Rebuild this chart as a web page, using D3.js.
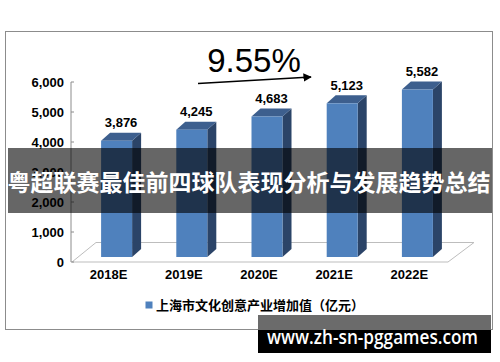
<!DOCTYPE html>
<html>
<head>
<meta charset="utf-8">
<script src="https://cdn.jsdelivr.net/npm/d3@7/dist/d3.min.js"></script>
<style>
  html, body { margin: 0; padding: 0; background: #fff; }
  svg { display: block; }
</style>
</head>
<body>
<svg id="chart" width="500" height="362"></svg>
<script>
// Chart data
const categories = ['2018E', '2019E', '2020E', '2021E', '2022E'];
const values = [3876, 4245, 4683, 5123, 5582];
const yTicks = [0, 1000, 2000, 3000, 4000, 5000, 6000];
const growthLabel = '9.55%';
const legendLabel = '上海市文化创意产业增加值（亿元）';
const titleText = '粤超联赛最佳前四球队表现分析与发展趋势总结';
const siteText = 'www.zh-sn-pggames.com';

const svg = d3.select('#chart');
const latin = '"Liberation Sans", Arial, sans-serif';
const cjk = '"Noto Sans CJK SC", sans-serif';

// Outer frame
svg.append('rect')
    .attr('x', 5.5).attr('y', 31.5)
    .attr('width', 487).attr('height', 298)
    .attr('fill', '#fff')
    .attr('stroke', '#8c8c8c')
    .attr('stroke-width', 1);

// Scales (front plane of the 3D plot)
const x = d3.scaleBand().domain(categories).range([72, 448]).padding(0);
const y = d3.scaleLinear().domain([0, 6000]).range([262, 82]);

// Floor depth and bar depth
const floorDx = 24, floorDy = -19.5;
const barShiftX = 7, barShiftY = -5;
const sideDx = 9, sideDy = -8;
const barW = 31;

// Floor
const g = svg.append('g');
const x0 = x.range()[0], x1 = x.range()[1], y0 = y(0);
g.append('path')
    .attr('d', `M${x0},${y0} L${x0 + floorDx},${y0 + floorDy} L${x1 + floorDx + 2},${y0 + floorDy} L${x1},${y0} Z`)
    .attr('fill', 'none')
    .attr('stroke', '#bdbdbd')
    .attr('stroke-width', 1);

// Y axis line and ticks
g.append('line')
    .attr('x1', 71).attr('x2', 71)
    .attr('y1', y(6000)).attr('y2', y(0))
    .attr('stroke', '#8c8c8c');

g.selectAll('.tick')
    .data(yTicks)
    .enter()
    .append('line')
    .attr('x1', 71).attr('x2', 74)
    .attr('y1', d => y(d)).attr('y2', d => y(d))
    .attr('stroke', '#8c8c8c');

g.selectAll('.ylab')
    .data(yTicks)
    .enter()
    .append('text')
    .attr('x', 64)
    .attr('y', d => y(d) + 4.5)
    .attr('text-anchor', 'end')
    .attr('font-family', latin)
    .attr('font-weight', 'bold')
    .attr('font-size', '13px')
    .attr('fill', '#000')
    .text(d => d3.format(',')(d));

// Bars
const bars = g.selectAll('.bar')
    .data(values)
    .enter()
    .append('g')
    .attr('class', 'bar');

const bx = (d, i) => x(categories[i]) + x.bandwidth() / 2 - barW / 2 + barShiftX;
const bTop = d => y(d) + barShiftY;
const bBot = y0 + barShiftY;

bars.append('path')   // side
    .attr('d', (d, i) => {
        const l = bx(d, i) + barW;
        return `M${l},${bTop(d)} L${l + sideDx},${bTop(d) + sideDy} L${l + sideDx},${bBot + sideDy} L${l},${bBot} Z`;
    })
    .attr('fill', '#2b4468');

bars.append('path')   // top
    .attr('d', (d, i) => {
        const l = bx(d, i);
        return `M${l},${bTop(d)} L${l + sideDx},${bTop(d) + sideDy} L${l + barW + sideDx},${bTop(d) + sideDy} L${l + barW},${bTop(d)} Z`;
    })
    .attr('fill', '#3d5f8e');

bars.append('rect')   // front
    .attr('x', (d, i) => bx(d, i))
    .attr('y', d => bTop(d))
    .attr('width', barW)
    .attr('height', d => bBot - bTop(d))
    .attr('fill', '#4f81bd');

// Value labels
bars.append('text')
    .attr('x', (d, i) => bx(d, i) + barW / 2 + sideDx / 2)
    .attr('y', d => bTop(d) + sideDy - 5.5)
    .attr('text-anchor', 'middle')
    .attr('font-family', latin)
    .attr('font-weight', 'bold')
    .attr('font-size', '13px')
    .attr('fill', '#000')
    .text(d => d3.format(',')(d));

// Category labels
g.selectAll('.xlab')
    .data(categories)
    .enter()
    .append('text')
    .attr('x', d => x(d) + x.bandwidth() / 2 - 1)
    .attr('y', 279)
    .attr('text-anchor', 'middle')
    .attr('font-family', latin)
    .attr('font-weight', 'bold')
    .attr('font-size', '13px')
    .attr('fill', '#000')
    .text(d => d);

// Growth annotation
svg.append('defs').append('marker')
    .attr('id', 'arrow')
    .attr('viewBox', '0 0 10 10')
    .attr('refX', 9).attr('refY', 5)
    .attr('markerWidth', 6).attr('markerHeight', 6)
    .attr('orient', 'auto')
    .append('path')
    .attr('d', 'M0,0 L10,5 L0,10 Z')
    .attr('fill', '#000');

svg.append('line')
    .attr('x1', 198).attr('y1', 83.5)
    .attr('x2', 311).attr('y2', 77)
    .attr('stroke', '#000')
    .attr('stroke-width', 1.4)
    .attr('marker-end', 'url(#arrow)');

svg.append('text')
    .attr('x', 254)
    .attr('y', 72)
    .attr('text-anchor', 'middle')
    .attr('font-family', latin)
    .attr('font-size', '33px')
    .attr('fill', '#000')
    .text(growthLabel);

// Legend
svg.append('rect')
    .attr('x', 145.5).attr('y', 301.5)
    .attr('width', 7).attr('height', 7)
    .attr('fill', '#4f81bd');

svg.append('text')
    .attr('x', 156)
    .attr('y', 310)
    .attr('font-family', cjk)
    .attr('font-weight', 'bold')
    .attr('font-size', '13px')
    .attr('fill', '#000')
    .text(legendLabel);

// Title overlay band
svg.append('rect')
    .attr('x', 8).attr('y', 148)
    .attr('width', 484).attr('height', 65)
    .attr('fill', 'rgba(0,0,0,0.6)');

svg.append('text')
    .attr('x', 249)
    .attr('y', 191)
    .attr('text-anchor', 'middle')
    .attr('font-family', cjk)
    .attr('font-weight', 'bold')
    .attr('font-size', '23px')
    .attr('fill', '#fff')
    .text(titleText);

// Site watermark
svg.append('rect')
    .attr('x', 258).attr('y', 315)
    .attr('width', 233).attr('height', 15)
    .attr('fill', '#6b6b6b');

svg.append('rect')
    .attr('x', 258).attr('y', 330)
    .attr('width', 233).attr('height', 23)
    .attr('fill', '#000');

svg.append('text')
    .attr('x', 267)
    .attr('y', 344)
    .attr('textLength', 211)
    .attr('lengthAdjust', 'spacingAndGlyphs')
    .attr('font-family', '"Open Sans", sans-serif')
    .attr('font-weight', 600)
    .attr('font-size', '19px')
    .attr('fill', '#fff')
    .text(siteText);
</script>
</body>
</html>
